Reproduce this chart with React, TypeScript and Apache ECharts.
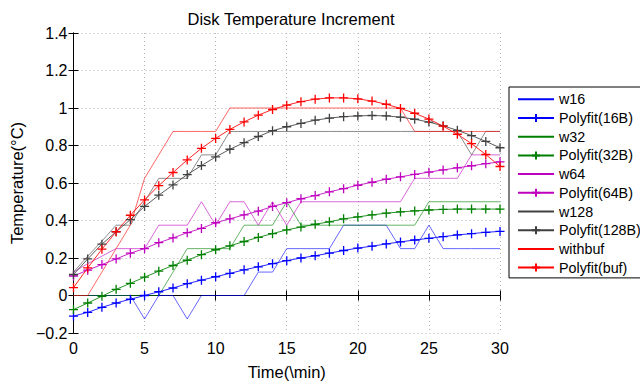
import React, { useEffect, useRef } from 'react';
import * as echarts from 'echarts';

// Sample times in minutes
const minutes = [0, 1, 2, 3, 4, 5, 6, 7, 8, 9, 10, 11, 12, 13, 14, 15, 16, 17, 18, 19, 20, 21, 22, 23, 24, 25, 26, 27, 28, 29, 30];

// Measured temperature increments (°C)
const w16 = [0, 0, 0, 0, 0, -0.125, 0, 0, -0.125, 0, 0, 0, 0, 0.125, 0.125, 0.25, 0.25, 0.25, 0.25, 0.375, 0.375, 0.375, 0.375, 0.25, 0.25, 0.375, 0.25, 0.25, 0.25, 0.25, 0.25];
const w32 = [0, 0, 0, 0, 0, 0, 0, 0.125, 0.25, 0.25, 0.25, 0.25, 0.375, 0.375, 0.375, 0.5, 0.375, 0.375, 0.375, 0.375, 0.375, 0.375, 0.375, 0.375, 0.375, 0.5, 0.5, 0.5, 0.5, 0.5, 0.5];
const w64 = [0.125, 0.17, 0.21, 0.25, 0.25, 0.25, 0.375, 0.375, 0.375, 0.5, 0.375, 0.5, 0.5, 0.375, 0.5, 0.375, 0.5, 0.5, 0.5, 0.5, 0.5, 0.5, 0.5, 0.5, 0.625, 0.625, 0.625, 0.625, 0.75, 0.75, 0.75];
const w128 = [0.125, 0.21, 0.29, 0.375, 0.375, 0.5, 0.625, 0.625, 0.625, 0.75, 0.75, 0.875, 0.875, 0.875, 0.875, 0.875, 0.875, 0.875, 0.875, 0.875, 0.875, 0.875, 0.875, 0.875, 0.875, 0.875, 0.875, 0.875, 0.75, 0.875, 0.875];
const withbuf = [0, 0, 0.125, 0.25, 0.375, 0.625, 0.75, 0.875, 0.875, 0.875, 0.875, 1, 1, 1, 1, 1, 1, 1, 1, 1, 1, 1, 1, 1, 0.875, 0.875, 0.875, 0.875, 0.875, 0.875, 0.875];

// Polynomial fits of each run
const fit16 = [-0.11, -0.09, -0.063, -0.04, -0.02, 0.0, 0.02, 0.04, 0.063, 0.082, 0.1, 0.118, 0.137, 0.153, 0.17, 0.186, 0.2, 0.212, 0.226, 0.24, 0.253, 0.263, 0.275, 0.286, 0.296, 0.305, 0.314, 0.323, 0.33, 0.337, 0.342];
const fit32 = [-0.075, -0.04, -0.004, 0.033, 0.065, 0.098, 0.13, 0.16, 0.188, 0.218, 0.244, 0.265, 0.288, 0.31, 0.33, 0.35, 0.365, 0.38, 0.393, 0.409, 0.419, 0.43, 0.439, 0.446, 0.451, 0.456, 0.459, 0.461, 0.461, 0.461, 0.461];
const fit64 = [0.104, 0.135, 0.165, 0.195, 0.226, 0.25, 0.282, 0.307, 0.335, 0.358, 0.388, 0.409, 0.43, 0.45, 0.475, 0.495, 0.516, 0.533, 0.553, 0.57, 0.588, 0.604, 0.62, 0.633, 0.646, 0.658, 0.67, 0.681, 0.692, 0.703, 0.713];
const fit128 = [0.112, 0.195, 0.274, 0.34, 0.405, 0.475, 0.535, 0.59, 0.645, 0.693, 0.739, 0.78, 0.815, 0.848, 0.879, 0.9, 0.918, 0.935, 0.946, 0.954, 0.958, 0.96, 0.958, 0.951, 0.94, 0.925, 0.905, 0.881, 0.853, 0.822, 0.788];
const fitBuf = [0.042, 0.147, 0.247, 0.34, 0.428, 0.51, 0.586, 0.656, 0.723, 0.785, 0.838, 0.886, 0.926, 0.962, 0.992, 1.015, 1.034, 1.047, 1.054, 1.054, 1.049, 1.037, 1.02, 0.998, 0.972, 0.941, 0.903, 0.86, 0.81, 0.752, 0.688];

const xTicks = { min: 0, max: 30, interval: 5 };
const yTicks = { min: -0.2, max: 1.4, interval: 0.2 };

const BLUE = '#0000ff';
const GREEN = '#008000';
const MAGENTA = '#bf00bf';
const GRAY = '#404040';
const RED = '#ff0000';

const PLUS = 'path://M0,5L10,5M5,0L5,10';
const FONT = '"Liberation Sans", Arial, Helvetica, sans-serif';

const pairs = (values: number[]) => values.map((v, i) => [minutes[i], v]);

const rawSeries = (name: string, values: number[], color: string) => ({
  type: 'line',
  name,
  data: pairs(values),
  symbol: 'none',
  silent: true,
  z: 2,
  lineStyle: { color, width: 1, opacity: 0.6 },
  itemStyle: { color },
});

const fitSeries = (name: string, values: number[], color: string) => ({
  type: 'line',
  name,
  data: pairs(values),
  symbol: PLUS,
  symbolSize: 9,
  showSymbol: true,
  silent: true,
  z: 3,
  lineStyle: { color, width: 1, opacity: 0.85 },
  itemStyle: { color, borderColor: color, borderWidth: 1.3 },
});

// Legend entries: plain runs show only a line, fits show a line with a "+"
const rawLegend = (name: string) => ({ name, itemStyle: { opacity: 0 } });
const fitLegend = (name: string) => ({ name });

const fmtY = (v: number) => String(Math.round(v * 10) / 10).replace('-', '\u2212');

export default function App() {
  const ref = useRef<HTMLDivElement>(null);

  useEffect(() => {
    document.body.style.margin = '0';
    if (!ref.current) return;
    const chart = echarts.init(ref.current, undefined, { renderer: 'svg' });

    const tickStyle = { inside: true, length: 5, lineStyle: { color: '#000', width: 1 } };
    const lineStyle = { show: true, lineStyle: { color: '#000', width: 1 } };
    const gridLine = { show: true, lineStyle: { color: '#b4b4b4', width: 1, type: [1, 3] } };

    chart.setOption({
      animation: false,
      backgroundColor: '#fff',
      textStyle: { fontFamily: FONT },
      title: {
        text: 'Disk Temperature Increment',
        left: 286,
        top: 5,
        textAlign: 'center',
        textStyle: { fontFamily: FONT, fontSize: 16.5, fontWeight: 'normal', color: '#000' },
      },
      grid: { left: 69, top: 33, width: 431, height: 300, show: false },
      legend: {
        left: 509,
        top: 87,
        orient: 'vertical',
        padding: [5.3, 14, 3.3, 8],
        itemWidth: 36,
        itemHeight: 10,
        itemGap: 4.7,
        backgroundColor: '#fff',
        borderColor: '#000',
        borderWidth: 1,
        borderRadius: 0,
        lineStyle: { opacity: 1 },
        textStyle: { fontFamily: FONT, fontSize: 14.3, color: '#000', lineHeight: 14 },
        selectedMode: false,
        data: [
          rawLegend('w16'), fitLegend('Polyfit(16B)'),
          rawLegend('w32'), fitLegend('Polyfit(32B)'),
          rawLegend('w64'), fitLegend('Polyfit(64B)'),
          rawLegend('w128'), fitLegend('Polyfit(128B)'),
          rawLegend('withbuf'), fitLegend('Polyfit(buf)'),
        ],
      },
      xAxis: [
        {
          type: 'value',
          ...xTicks,
          name: 'Time(\\min)',
          nameLocation: 'middle',
          nameGap: 30,
          nameTextStyle: { fontFamily: FONT, fontSize: 16.5, color: '#000' },
          axisLine: lineStyle,
          axisTick: tickStyle,
          axisLabel: { fontFamily: FONT, fontSize: 16, color: '#000', margin: 7 },
          splitLine: gridLine,
        },
        {
          type: 'value',
          position: 'top',
          ...xTicks,
          axisLine: lineStyle,
          axisTick: tickStyle,
          axisLabel: { show: false },
          splitLine: { show: false },
        },
      ],
      yAxis: [
        {
          type: 'value',
          ...yTicks,
          name: 'Temperature(\u00B0C)',
          nameLocation: 'middle',
          nameGap: 33,
          nameTextStyle: { fontFamily: FONT, fontSize: 16.5, color: '#000' },
          axisLine: lineStyle,
          axisTick: tickStyle,
          axisLabel: { fontFamily: FONT, fontSize: 16, color: '#000', margin: 6, formatter: fmtY },
          splitLine: gridLine,
        },
        {
          type: 'value',
          position: 'right',
          ...yTicks,
          axisLine: lineStyle,
          axisTick: tickStyle,
          axisLabel: { show: false },
          splitLine: { show: false },
        },
      ],
      series: [
        rawSeries('w16', w16, BLUE),
        fitSeries('Polyfit(16B)', fit16, BLUE),
        rawSeries('w32', w32, GREEN),
        fitSeries('Polyfit(32B)', fit32, GREEN),
        rawSeries('w64', w64, MAGENTA),
        fitSeries('Polyfit(64B)', fit64, MAGENTA),
        rawSeries('w128', w128, GRAY),
        fitSeries('Polyfit(128B)', fit128, GRAY),
        rawSeries('withbuf', withbuf, RED),
        fitSeries('Polyfit(buf)', fitBuf, RED),
      ],
    });

    return () => chart.dispose();
  }, []);

  return <div ref={ref} style={{ width: 640, height: 385 }} />;
}
